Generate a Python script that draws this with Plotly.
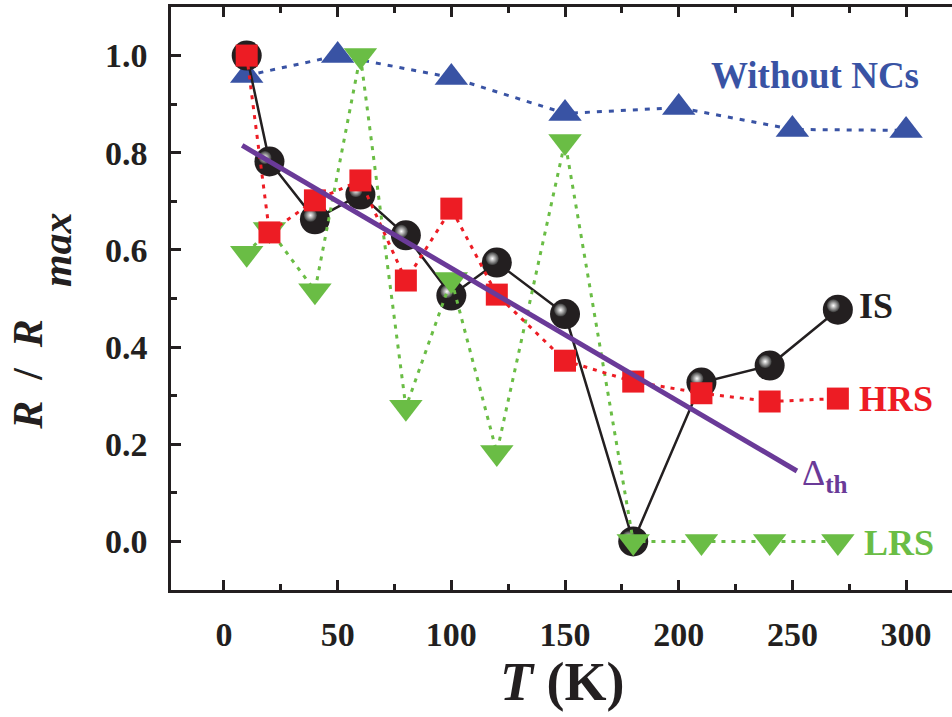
import plotly.graph_objects as go

# ---- data -------------------------------------------------------------
T_is = [10, 20, 40, 60, 80, 100, 120, 150, 180, 210, 240, 270]
IS = [1.0, 0.782, 0.663, 0.714, 0.630, 0.506, 0.574, 0.468, 0.0, 0.327, 0.362, 0.477]
HRS = [1.0, 0.636, 0.702, 0.743, 0.537, 0.685, 0.508, 0.372, 0.329, 0.305, 0.288, 0.294]
LRS = [0.593, 0.642, 0.516, 1.0, 0.276, 0.539, 0.183, 0.823, 0.0, 0.0, 0.0, 0.0]

T_ref = [10, 50, 100, 150, 200, 250, 300]
WITHOUT_NC = [0.959, 1.0, 0.955, 0.881, 0.893, 0.848, 0.846]

T_fit = [8, 252]
FIT = [0.815, 0.145]

x_ticks = [0, 50, 100, 150, 200, 250, 300]
y_ticks = [0.0, 0.2, 0.4, 0.6, 0.8, 1.0]

# ---- styling ------------------------------------------------------------
W, H = 952, 717
M = dict(l=171, r=0, t=7, b=127)
X_RANGE = [-23.3, 320.2]
Y_RANGE = [-0.1, 1.1]

BLACK = "#231F20"
RED = "#ED1C24"
GREEN = "#6ABD45"
BLUE = "#3953A4"
PURPLE = "#6A3A98"
SERIF = "Liberation Serif"

# pixel -> data conversion for the sphere highlight offset
px_x = (W - M["l"] - M["r"]) / (X_RANGE[1] - X_RANGE[0])
px_y = (H - M["t"] - M["b"]) / (Y_RANGE[1] - Y_RANGE[0])
hl_dx, hl_dy = -4.5 / px_x, 4.0 / px_y

fig = go.Figure()

fig.add_trace(go.Scatter(
    x=T_ref, y=WITHOUT_NC, mode="lines+markers",
    line=dict(color=BLUE, width=3, dash="5px,7px"),
    marker=dict(symbol="triangle-up", size=29, color=BLUE),
))

fig.add_trace(go.Scatter(
    x=T_is, y=IS, mode="lines+markers",
    line=dict(color=BLACK, width=2.5),
    marker=dict(symbol="circle", size=30, color=BLACK),
))
# glossy highlight on the spheres
fig.add_trace(go.Scatter(
    x=[t + hl_dx for t in T_is], y=[v + hl_dy for v in IS], mode="markers",
    marker=dict(symbol="circle", size=13, color="#3a3a3a",
                gradient=dict(type="radial", color="#ffffff")),
))

fig.add_trace(go.Scatter(
    x=T_is, y=LRS, mode="lines+markers",
    line=dict(color=GREEN, width=3, dash="4px,6px"),
    marker=dict(symbol="triangle-down", size=29, color=GREEN),
))

fig.add_trace(go.Scatter(
    x=T_is, y=HRS, mode="lines+markers",
    line=dict(color=RED, width=3, dash="4px,6px"),
    marker=dict(symbol="square", size=22, color=RED),
))

fig.add_trace(go.Scatter(
    x=T_fit, y=FIT, mode="lines",
    line=dict(color=PURPLE, width=5),
))

tickfont = dict(family=SERIF, size=34, color=BLACK, weight="bold")
common = dict(
    showline=True, linecolor=BLACK, linewidth=2.5,
    ticks="inside", ticklen=10, tickwidth=2.5, tickcolor=BLACK,
    showgrid=False, zeroline=False, tickfont=tickfont,
)

fig.update_xaxes(
    range=X_RANGE, tickvals=x_ticks, mirror="ticks",
    minor=dict(dtick=25, ticks="inside", ticklen=6, tickwidth=2.5, tickcolor=BLACK),
    ticklabelstandoff=12, **common,
)
fig.update_yaxes(
    range=Y_RANGE, tickvals=y_ticks, tickformat=".1f", mirror=False,
    minor=dict(dtick=0.1, tick0=0, ticks="inside", ticklen=6, tickwidth=2.5, tickcolor=BLACK),
    ticklabelstandoff=14, **common,
)


def label(x, y, text, color, size=36, xanchor="left"):
    fig.add_annotation(
        x=x, y=y, text=text, showarrow=False, xanchor=xanchor, yanchor="middle",
        font=dict(family=SERIF, size=size, color=color, weight="bold"),
    )


label(260, 0.96, "Without NCs", BLUE, size=37, xanchor="center")
label(278.5, 0.485, "IS", BLACK)
label(278.5, 0.293, "HRS", RED)
label(280.5, -0.003, "LRS", GREEN)
fig.add_annotation(
    x=253.5, y=0.135, text="Δ<sub><b>th</b></sub>", showarrow=False,
    xanchor="left", yanchor="middle",
    font=dict(family=SERIF, size=36, color=PURPLE),
)

# axis titles
fig.add_annotation(
    xref="paper", yref="paper", x=0, y=0.369, xshift=-143,
    text="<b><i>R</i>&nbsp;&nbsp;/&nbsp;&nbsp;<i>R</i></b>", textangle=-90, showarrow=False,
    xanchor="center", yanchor="middle",
    font=dict(family=SERIF, size=42, color=BLACK),
)
fig.add_annotation(
    xref="paper", yref="paper", x=0, y=0.583, xshift=-114,
    text="<b><i>max</i></b>", textangle=-90, showarrow=False,
    xanchor="center", yanchor="middle",
    font=dict(family=SERIF, size=42, color=BLACK),
)
fig.add_annotation(
    xref="paper", yref="paper", x=0.5, y=0, yshift=-92,
    text="<b><i>T</i> (K)</b>", showarrow=False,
    xanchor="center", yanchor="middle",
    font=dict(family=SERIF, size=54, color=BLACK),
)

fig.update_layout(
    width=W, height=H, margin=M, showlegend=False,
    paper_bgcolor="white", plot_bgcolor="white",
)

fig.write_html("out.html")
